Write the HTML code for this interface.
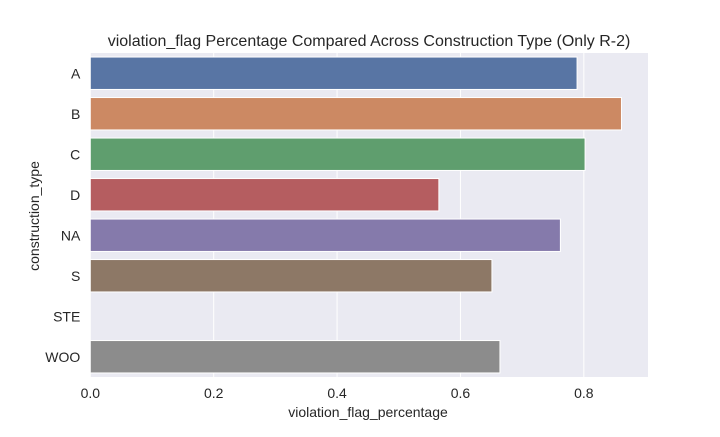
<!DOCTYPE html>
<html><head><meta charset="utf-8"><style>
body{margin:0;background:#fff;}
svg text{font-family:"Liberation Sans",sans-serif;fill:#262626;}
</style></head><body>
<svg id="chart" width="720" height="432" xmlns="http://www.w3.org/2000/svg">
<rect x="0" y="0" width="720" height="432" fill="#fff"/>
<text x="369" y="46" text-anchor="middle" font-size="16">violation_flag Percentage Compared Across Construction Type (Only R-2)</text>
<text x="368" y="417" text-anchor="middle" font-size="14">violation_flag_percentage</text>
<text transform="translate(39,216) rotate(-90)" text-anchor="middle" font-size="14">construction_type</text>
<g id="plot"></g>
</svg>
<script>
const categories=["A","B","C","D","NA","S","STE","WOO"];
const values=[0.789,0.861,0.802,0.565,0.762,0.651,0,0.664];
const colors=["#5875a4","#cc8963","#5f9e6e","#b55d60","#857aab","#8d7866","#d095bf","#8c8c8c"];
const xTicks=[0,0.2,0.4,0.6,0.8];
const xTickLabels=["0.0","0.2","0.4","0.6","0.8"];
const X0=90.3,X1=648,Y0=53,Y1=377,XMAX=0.904;
const ns="http://www.w3.org/2000/svg";
const g=document.getElementById('plot');
function xs(v){return X0+(v/XMAX)*(X1-X0);}
const band=(Y1-Y0)/categories.length;
function yc(i){return Y0+band*(i+0.5);}
function mk(t,a){const e=document.createElementNS(ns,t);for(const k in a)e.setAttribute(k,a[k]);g.appendChild(e);return e;}
const bg=mk('rect',{x:X0,y:Y0,width:X1-X0,height:Y1-Y0,fill:'#eaeaf2'});


xTicks.forEach((t,i)=>{
  const l=mk('line',{x1:xs(t),x2:xs(t),y1:Y0,y2:Y1,stroke:'#fff','stroke-width':1});
  
  
  const tx=mk('text',{x:xs(t),y:Y1+21,'text-anchor':'middle','font-size':14});
  tx.textContent=xTickLabels[i];
  
  
});
categories.forEach((c,i)=>{
  const h=band*0.8;
  const r=mk('rect',{x:X0,y:yc(i)-h/2,width:xs(values[i])-X0,height:h,fill:colors[i],stroke:'#fff','stroke-width':1});
  
  
  const tx=mk('text',{x:X0-10,y:yc(i)+5,'text-anchor':'end','font-size':14});
  tx.textContent=c;
  
  
});
</script>
</body></html>
